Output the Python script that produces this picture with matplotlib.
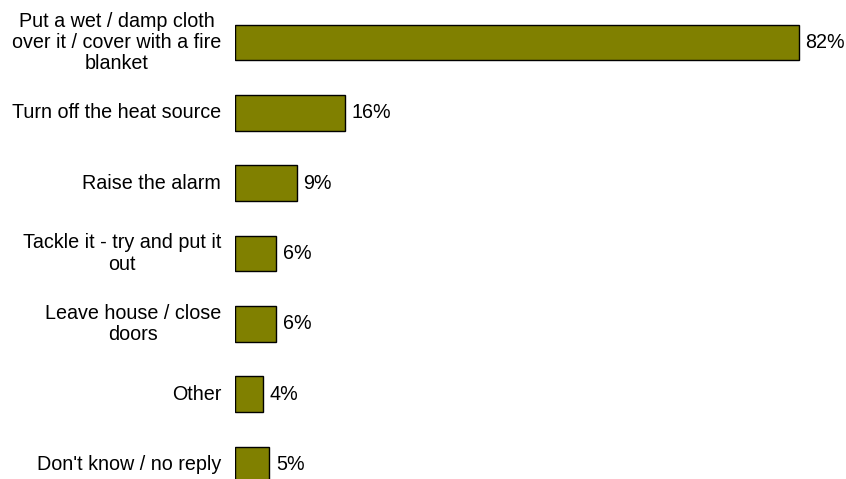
import matplotlib
matplotlib.use("Agg")
import matplotlib.pyplot as plt

categories = [
    "Put a wet / damp cloth\nover it / cover with a fire\nblanket",
    "Turn off the heat source",
    "Raise the alarm",
    "Tackle it - try and put it\nout",
    "Leave house / close\ndoors",
    "Other",
    "Don't know / no reply",
]
values = [82, 16, 9, 6, 6, 4, 5]
value_labels = ["82%", "16%", "9%", "6%", "6%", "4%", "5%"]

W, H = 846, 479
fig = plt.figure(figsize=(W / 100, H / 100), dpi=100)
fig.patch.set_facecolor("white")

# axes placed in pixel units: bars start at x=235
left_px, right_px = 235, 846
ax = fig.add_axes([left_px / W, 0, (right_px - left_px) / W, 1])
px_per_unit = 564 / 82
ax.set_xlim(0, (right_px - left_px) / px_per_unit)

row_px = 70.33
first_center = 42.5
ax.set_ylim((H - first_center) / row_px, -first_center / row_px)

font = "Liberation Sans"
fs = 14.2

ypos = list(range(len(categories)))
ax.barh(ypos, values, height=0.51, color="#808000", edgecolor="black", linewidth=1.0)

for y, v, lab in zip(ypos, values, value_labels):
    ax.text(v + 6.5 / px_per_unit, y, lab, va="center", ha="left",
            fontsize=fs, family=font, color="black")

for y, cat in zip(ypos, categories):
    ax.text(-14 / px_per_unit, y, cat, va="center", ha="right", multialignment="center",
            fontsize=fs, family=font, color="black", linespacing=1.15, clip_on=False)

ax.axis("off")
fig.savefig("out.png", dpi=100, facecolor="white")
